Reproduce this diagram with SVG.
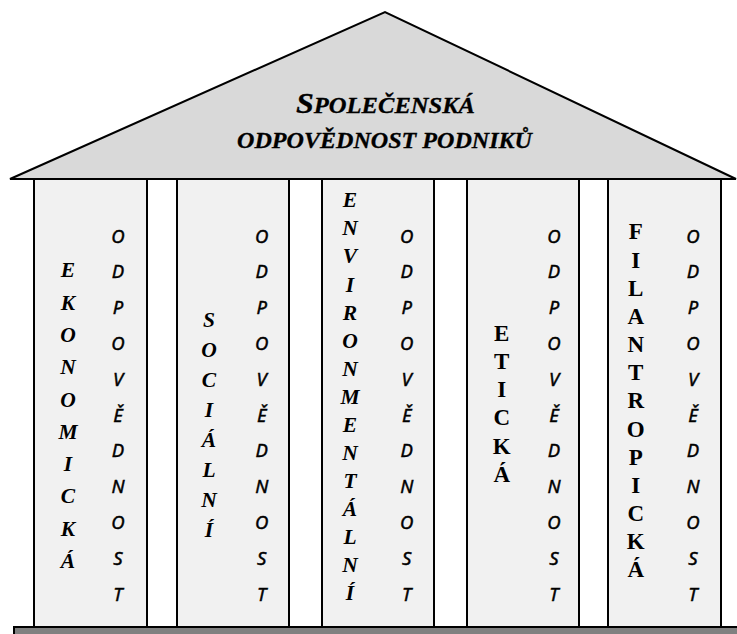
<svg xmlns="http://www.w3.org/2000/svg" width="737" height="634" viewBox="0 0 737 634">
<style>
.roof{fill:#d9d9d9;stroke:#000;stroke-width:2;stroke-linejoin:miter}
.col{fill:#f1f1f1;stroke:#000;stroke-width:2}
.base{fill:#808080;stroke:#000;stroke-width:2}
.title{font-family:"Liberation Serif","Times New Roman",serif;font-weight:bold;font-style:italic;fill:#000;text-anchor:middle;stroke:#000;stroke-width:0.3}
.word{font-family:"Liberation Serif","Times New Roman",serif;font-weight:bold;font-style:italic;fill:#000;text-anchor:middle}
.wordu{font-family:"Liberation Serif","Times New Roman",serif;font-weight:bold;fill:#000;text-anchor:middle}
.odp{font-family:"Noto Sans","Open Sans",sans-serif;font-style:italic;fill:#000;text-anchor:middle;stroke:#000;stroke-width:0.45}
</style>
<rect x="0" y="0" width="737" height="634" fill="#fff"/>
<g id="base">
<rect class="base" x="14" y="627" width="730" height="12"/>
</g>
<g id="roof">
<polygon class="roof" points="10,179 385,12 736,179"/>
<text class="title" x="385.5" y="113" font-size="23" textLength="179" lengthAdjust="spacingAndGlyphs"><tspan font-size="30">S</tspan>POLEČENSKÁ</text>
<text class="title" x="384.5" y="148" font-size="23" textLength="295" lengthAdjust="spacingAndGlyphs">ODPOVĚDNOST PODNIKŮ</text>
</g>
<g id="col-ekonomicka">
<rect class="col" x="34" y="179" width="113" height="448"/>
<text class="word" font-size="21.5" x="68 68 68 68 68 68 68 68 68 68" y="277.3 309.6 341.9 374.2 406.5 438.8 471.1 503.4 535.7 568">EKONOMICKÁ</text>
<text class="odp" font-size="18.5" x="118 118 118 118 118 118 118 118 118 118 118" y="242.5 278.3 314.1 349.9 385.7 421.5 457.3 493.1 528.9 564.7 600.5">ODPOVĚDNOST</text>
</g>
<g id="col-socialni">
<rect class="col" x="177" y="179" width="112" height="448"/>
<text class="word" font-size="21.5" x="209 209 209 209 209 209 209 209" y="326.7 356.7 386.7 416.7 446.7 476.7 506.7 536.7">SOCIÁLNÍ</text>
<text class="odp" font-size="18.5" x="261.7 261.7 261.7 261.7 261.7 261.7 261.7 261.7 261.7 261.7 261.7" y="242.5 278.3 314.1 349.9 385.7 421.5 457.3 493.1 528.9 564.7 600.5">ODPOVĚDNOST</text>
</g>
<g id="col-environmentalni">
<rect class="col" x="322" y="179" width="112" height="448"/>
<text class="word" font-size="21.5" x="350 350 350 350 350 350 350 350 350 350 350 350 350 350 350" y="207.3 235.4 263.4 291.5 319.5 347.6 375.6 403.7 431.7 459.8 487.8 515.9 543.9 572 600">ENVIRONMENTÁLNÍ</text>
<text class="odp" font-size="18.5" x="406.7 406.7 406.7 406.7 406.7 406.7 406.7 406.7 406.7 406.7 406.7" y="242.5 278.3 314.1 349.9 385.7 421.5 457.3 493.1 528.9 564.7 600.5">ODPOVĚDNOST</text>
</g>
<g id="col-eticka">
<rect class="col" x="467" y="179" width="112" height="448"/>
<text class="wordu" font-size="23" x="501.7 501.7 501.7 501.7 501.7 501.7" y="340.7 368.9 397.1 425.3 453.5 481.7">ETICKÁ</text>
<text class="odp" font-size="18.5" x="554 554 554 554 554 554 554 554 554 554 554" y="242.5 278.3 314.1 349.9 385.7 421.5 457.3 493.1 528.9 564.7 600.5">ODPOVĚDNOST</text>
</g>
<g id="col-filantropicka">
<rect class="col" x="608" y="179" width="113" height="448"/>
<text class="wordu" font-size="23" x="635.7 635.7 635.7 635.7 635.7 635.7 635.7 635.7 635.7 635.7 635.7 635.7 635.7" y="239.3 267.5 295.7 323.8 352 380.2 408.3 436.5 464.7 492.8 521 549.2 577.3">FILANTROPICKÁ</text>
<text class="odp" font-size="18.5" x="693 693 693 693 693 693 693 693 693 693 693" y="242.5 278.3 314.1 349.9 385.7 421.5 457.3 493.1 528.9 564.7 600.5">ODPOVĚDNOST</text>
</g>
<g id="connectors"></g>
</svg>
